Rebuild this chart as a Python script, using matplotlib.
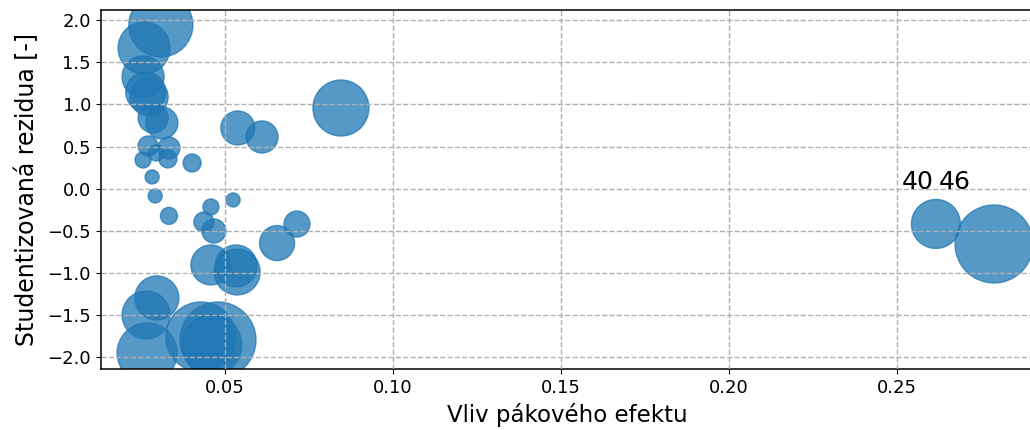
import numpy as np
import matplotlib
matplotlib.use("Agg")
import matplotlib.pyplot as plt

# leverage (hat values) and studentized residuals per observation
leverage = np.array([
    0.0310, 0.0260, 0.0257, 0.0265, 0.0275, 0.0287, 0.0313, 0.0272, 0.0334,
    0.0296, 0.0257, 0.0331, 0.0403, 0.0284, 0.0293, 0.0334, 0.0459, 0.0525,
    0.0438, 0.0468, 0.0656, 0.0715, 0.0459, 0.0534, 0.0537, 0.0298, 0.0266,
    0.0269, 0.0429, 0.0480, 0.0462, 0.0539, 0.0611, 0.0846, 0.2617, 0.2790,
])
resid = np.array([
    1.944, 1.671, 1.327, 1.148, 1.089, 0.840, 0.780, 0.507, 0.483,
    0.424, 0.341, 0.353, 0.305, 0.139, -0.086, -0.323, -0.217, -0.134,
    -0.396, -0.503, -0.646, -0.420, -0.906, -0.918, -0.989, -1.298, -1.500,
    -1.951, -1.761, -1.797, -1.856, 0.721, 0.614, 0.958, -0.419, -0.657,
])
# bubble size (Cook's distance scaled to marker area, pt^2)
cook_size = np.array([
    2124, 1402, 914, 829, 749, 467, 531, 207, 251,
    133, 133, 168, 168, 102, 102, 150, 133, 102,
    207, 299, 635, 350, 829, 914, 1097, 1004, 1194,
    1866, 2540, 2994, 1866, 599, 531, 1626, 1245, 3154,
])
labels = {34: "40", 35: "46"}

fig = plt.figure(figsize=(10.3, 4.3), dpi=100)
ax = fig.add_axes([0.0978, 0.1412, 0.9061, 0.8344])

ax.scatter(leverage, resid, s=cook_size, color="C0", alpha=0.75)

# point ids next to the high-leverage observations
for i, txt in labels.items():
    off = (cook_size[i] / 2.0) ** 0.5
    ax.annotate(txt, (leverage[i], resid[i]), xytext=(-off, off),
                textcoords="offset points", fontsize=18)

ax.set_xlim(0.0131, 0.2909)
ax.set_ylim(-2.145, 2.116)
ax.set_xticks([0.05, 0.10, 0.15, 0.20, 0.25])
ax.set_yticks(np.arange(-2.0, 2.01, 0.5))
ax.tick_params(labelsize=13)
ax.set_xlabel("Vliv pákového efektu", fontsize=16.5)
ax.set_ylabel("Studentizovaná rezidua [-]", fontsize=17, labelpad=6)
ax.grid(True, linestyle="--", color="#b0b0b0", linewidth=1.0)
ax.set_axisbelow(False)
for sp in ax.spines.values():
    sp.set_linewidth(1.1)

fig.savefig("out.png", dpi=100)
